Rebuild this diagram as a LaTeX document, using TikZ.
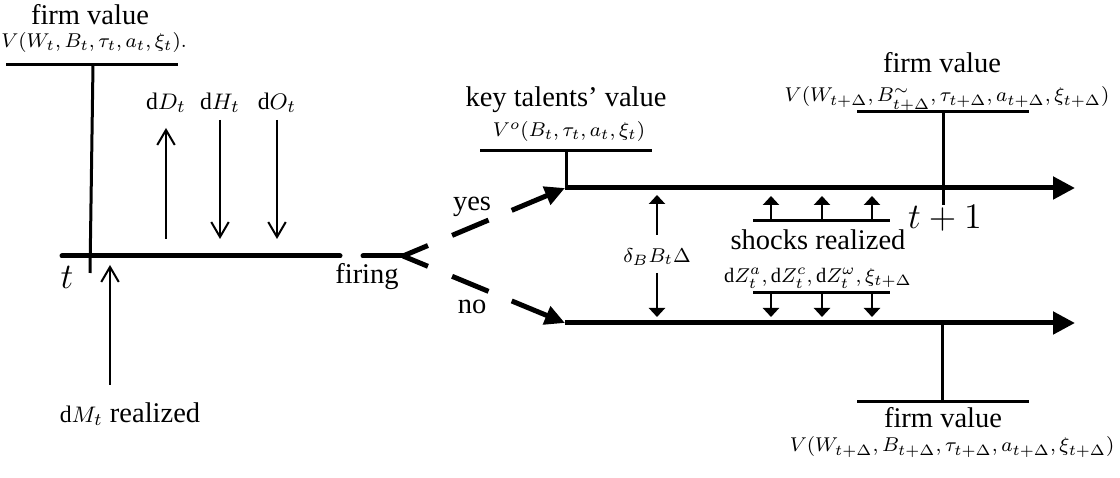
\documentclass[tikz,border=0pt]{standalone}
\usepackage{fontspec}
\setmainfont{Liberation Serif}
\usetikzlibrary{arrows.meta,calc}

\begin{document}
\begin{tikzpicture}[x=0.4pt,y=-0.4pt,
  txt/.style={font=\fontsize{11.4}{13}\selectfont, inner sep=0pt},
  mth/.style={font=\fontsize{8.2}{10}\selectfont, inner sep=0pt},
  big/.style={font=\fontsize{14.5}{17}\selectfont, inner sep=0pt},
  timeline/.style={line width=2pt, line cap=round},
  bar/.style={line width=1.2pt},
  openarrow/.style={line width=0.8pt, -{Straight Barb[length=6pt,width=7pt]}},
  smallarrow/.style={line width=1pt, -{Triangle[length=3.6pt,width=6.4pt]}},
  branch/.style={line width=2pt},
  branchtip/.style={line width=2pt, -{Triangle[length=8pt,width=7.5pt]}},
  axis/.style={line width=2pt, -{Triangle[length=8.8pt,width=8.8pt]}}
]
\useasboundingbox (0,0) rectangle (1120,478);

% ---------- period t ----------
\coordinate (tStart) at (62,256);
\coordinate (tEnd) at (340,256);
\draw[timeline] (tStart) -- (tEnd);
\node[big] (tLab) at (67,277) {$t$};

% firm value at t
\coordinate (fvLa) at (6,65);
\coordinate (fvLb) at (178,65);
\coordinate (fvLtop) at (93,65);
\coordinate (fvLbot) at (90,273);
\draw[bar] (fvLa) -- (fvLb);
\draw[bar] (fvLtop) -- (fvLbot);
\node[txt] (fvLtxt) at (90,15) {firm value};
\node[mth] (fvLmath) at (94,43) {$V(W_t,B_t,\tau_t,a_t,\xi_t).$};

% payouts and injections
\node[mth, font=\fontsize{9.5}{11}\selectfont] (dD) at (166,103) {$\mathrm{d}D_t$};
\node[mth, font=\fontsize{9.5}{11}\selectfont] (dH) at (220,103) {$\mathrm{d}H_t$};
\node[mth, font=\fontsize{9.5}{11}\selectfont] (dO) at (277,103) {$\mathrm{d}O_t$};
\coordinate (dDa) at (166,239); \coordinate (dDb) at (166,128);
\coordinate (dHa) at (220,120); \coordinate (dHb) at (220,239);
\coordinate (dOa) at (277,120); \coordinate (dOb) at (277,239);
\draw[openarrow] (dDa) -- (dDb);
\draw[openarrow] (dHa) -- (dHb);
\draw[openarrow] (dOa) -- (dOb);

% dM_t shock
\coordinate (dMa) at (110,385);
\coordinate (dMb) at (110,265);
\draw[openarrow] (dMa) -- (dMb);
\node[txt] (dMlab) at (130,414) {{\fontsize{9.5}{11}\selectfont$\mathrm{d}M_t$} realized};

% ---------- firing decision ----------
\coordinate (fireA) at (363,256);
\coordinate (fork) at (403,256);
\draw[timeline] (fireA) -- (fork);
\node[txt] (firing) at (367,277) {firing};

\coordinate (upStart) at (565,188);
\coordinate (dnStart) at (565,323);
\draw[branch] (fork) -- ($(fork)!0.154!(upStart)$);
\draw[branch] ($(fork)!0.303!(upStart)$) -- ($(fork)!0.528!(upStart)$);
\draw[branchtip] ($(fork)!0.671!(upStart)$) -- (upStart);
\draw[branch] (fork) -- ($(fork)!0.154!(dnStart)$);
\draw[branch] ($(fork)!0.303!(dnStart)$) -- ($(fork)!0.528!(dnStart)$);
\draw[branchtip] ($(fork)!0.671!(dnStart)$) -- (dnStart);
\node[txt] (yes) at (472,207) {yes};
\node[txt] (no) at (472,307) {no};

% ---------- period t+1 ----------
\coordinate (upEnd) at (1075,188);
\coordinate (dnEnd) at (1075,323);
\draw[axis] (upStart) -- (upEnd);
\draw[axis] (dnStart) -- (dnEnd);

% key talents' value
\coordinate (ktA) at (480,151);
\coordinate (ktB) at (652,151);
\coordinate (ktTop) at (566,151);
\coordinate (ktBot) at (566,188);
\draw[bar] (ktA) -- (ktB);
\draw[bar] (ktTop) -- (ktBot);
\node[txt] (ktTxt) at (566,100) {key talents' value};
\node[mth] (ktMath) at (569,132) {$V^o(B_t,\tau_t,a_t,\xi_t)$};

% gap between the branches
\node[mth] (gap) at (657,257) {$\delta_B B_t\Delta$};
\coordinate (gapUa) at (657,235); \coordinate (gapUb) at (657,195);
\coordinate (gapDa) at (657,273); \coordinate (gapDb) at (657,317);
\draw[smallarrow] (gapUa) -- (gapUb);
\draw[smallarrow] (gapDa) -- (gapDb);

% shocks
\coordinate (shUa) at (753,221); \coordinate (shUb) at (890,221);
\coordinate (shDa) at (753,293); \coordinate (shDb) at (890,293);
\draw[bar] (shUa) -- (shUb);
\draw[bar] (shDa) -- (shDb);
\foreach \x in {771,822,872} {
  \draw[smallarrow] (\x,221) -- (\x,196);
  \draw[smallarrow] (\x,293) -- (\x,317);
}
\node[txt] (shocks) at (818,240) {shocks realized};
\node[mth] (shMath) at (818,278) {$\mathrm{d}Z^a_t,\mathrm{d}Z^c_t,\mathrm{d}Z^\omega_t,\xi_{t+\Delta}$};

% firm value, upper branch
\coordinate (fvUa) at (857,112);
\coordinate (fvUb) at (1029,112);
\coordinate (fvUtop) at (943,112);
\coordinate (fvUbot) at (943,205);
\draw[bar] (fvUa) -- (fvUb);
\draw[bar] (fvUtop) -- (fvUbot);
\node[txt] (fvUtxt) at (942,63) {firm value};
\node[mth] (fvUmath) at (947,99) {$V(W_{t+\Delta},B^{\sim}_{t+\Delta},\tau_{t+\Delta},a_{t+\Delta},\xi_{t+\Delta})$};
\node[big] (t1) at (945,218) {$t+1$};

% firm value, lower branch
\coordinate (fvDtop) at (942,323);
\coordinate (fvDbot) at (942,402);
\coordinate (fvDa) at (857,402);
\coordinate (fvDb) at (1029,402);
\draw[bar] (fvDtop) -- (fvDbot);
\draw[bar] (fvDa) -- (fvDb);
\node[txt] (fvDtxt) at (943,418) {firm value};
\node[mth, anchor=east] (fvDmath) at (1115,447) {$V(W_{t+\Delta},B_{t+\Delta},\tau_{t+\Delta},a_{t+\Delta},\xi_{t+\Delta})$};
\end{tikzpicture}
\end{document}
